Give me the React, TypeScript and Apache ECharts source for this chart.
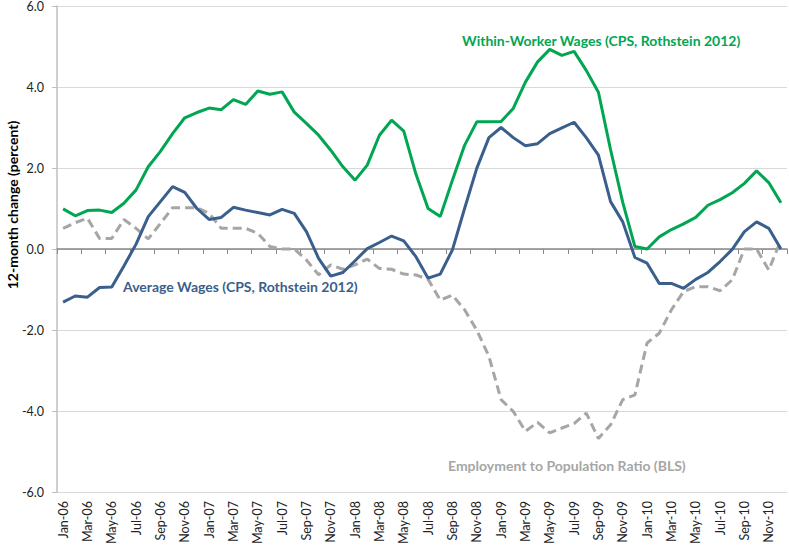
import React, { useEffect, useRef } from "react";
import * as echarts from "echarts";

const monthNames = ["Jan", "Feb", "Mar", "Apr", "May", "Jun", "Jul", "Aug", "Sep", "Oct", "Nov", "Dec"];
const years = ["06", "07", "08", "09", "10"];
const months: string[] = [];
years.forEach((y) => monthNames.forEach((m) => months.push(m + "-" + y)));

const withinWorker = [
  0.99, 0.82, 0.95, 0.96, 0.9, 1.13, 1.46, 2.03, 2.41, 2.85, 3.24, 3.37,
  3.48, 3.44, 3.69, 3.57, 3.9, 3.82, 3.88, 3.38, 3.1, 2.81, 2.44, 2.03,
  1.7, 2.07, 2.81, 3.18, 2.91, 1.85, 1.0, 0.8, 1.7, 2.56, 3.14, 3.14,
  3.15, 3.47, 4.12, 4.62, 4.93, 4.78, 4.88, 4.41, 3.87, 2.45, 1.15, 0.06,
  0.0, 0.3, 0.48, 0.62, 0.78, 1.08, 1.22, 1.39, 1.62, 1.93, 1.64, 1.14,
];
const averageWages = [
  -1.31, -1.16, -1.19, -0.95, -0.94, -0.42, 0.12, 0.8, 1.17, 1.54, 1.4, 1.0,
  0.73, 0.78, 1.03, 0.96, 0.9, 0.84, 0.98, 0.88, 0.43, -0.23, -0.67, -0.58,
  -0.29, 0.01, 0.16, 0.32, 0.2, -0.19, -0.72, -0.62, -0.02, 1.0, 1.99, 2.75,
  3.0, 2.75, 2.55, 2.6, 2.85, 2.99, 3.13, 2.75, 2.32, 1.17, 0.67, -0.21,
  -0.35, -0.85, -0.85, -0.97, -0.75, -0.58, -0.31, -0.01, 0.43, 0.67, 0.51, 0.0,
];
const employmentRatio = [
  0.51, 0.65, 0.76, 0.26, 0.26, 0.73, 0.51, 0.25, 0.63, 1.02, 1.02, 1.02,
  0.88, 0.51, 0.51, 0.51, 0.39, 0.06, 0.0, 0.0, -0.27, -0.64, -0.39, -0.5,
  -0.39, -0.25, -0.48, -0.5, -0.62, -0.64, -0.75, -1.26, -1.14, -1.5, -2.0, -2.65,
  -3.72, -4.01, -4.5, -4.28, -4.54, -4.42, -4.31, -4.05, -4.68, -4.34, -3.72, -3.6,
  -2.32, -2.08, -1.5, -1.05, -0.93, -0.93, -1.03, -0.76, 0.0, 0.0, -0.52, 0.22,
];

const GREEN = "#00A651";
const BLUE = "#3A5F8C";
const GRAY = "#A6A6A6";
const FONT = "Lato";

export default function App() {
  const ref = useRef<HTMLDivElement>(null);
  useEffect(() => {
    const chart = echarts.init(ref.current!, null, { renderer: "svg" });
    chart.setOption({
      animation: false,
      backgroundColor: "#ffffff",
      grid: { left: 57, right: 2, top: 6, bottom: 55, outerBoundsMode: "none" },
      xAxis: [
        {
          type: "category",
          data: months,
          position: "bottom",
          boundaryGap: true,
          axisLine: { show: false, onZero: false },
          axisTick: { show: false },
          splitLine: { show: false },
          axisLabel: {
            interval: 1,
            rotate: 90,
            margin: 9,
            fontSize: 12.5,
            fontFamily: FONT,
            color: "#222",
          },
        },
        {
          type: "category",
          data: months,
          position: "top",
          boundaryGap: true,
          axisLine: { show: true, onZero: true, lineStyle: { color: "#878787", width: 1.5 } },
          axisTick: { show: true, inside: true, interval: 1, length: 5, lineStyle: { color: "#878787" } },
          axisLabel: { show: false },
          splitLine: { show: false },
        },
      ],
      yAxis: {
        type: "value",
        min: -6,
        max: 6,
        interval: 2,
        axisLine: { show: true, lineStyle: { color: "#BFBFBF", width: 1.5 } },
        axisTick: { show: true, length: 5, lineStyle: { color: "#BFBFBF" } },
        splitLine: { show: true, lineStyle: { color: "#D9D9D9", width: 1 } },
        axisLabel: {
          formatter: (v: number) => v.toFixed(1),
          margin: 13,
          fontSize: 12.5,
          fontFamily: FONT,
          color: "#222",
        },
      },
      series: [
        {
          name: "Employment to Population Ratio (BLS)",
          type: "line",
          data: employmentRatio,
          symbol: "none",
          lineStyle: { color: GRAY, width: 3, type: [9, 5] },
          z: 2,
        },
        {
          name: "Average Wages (CPS, Rothstein 2012)",
          type: "line",
          data: averageWages,
          symbol: "none",
          lineStyle: { color: BLUE, width: 3 },
          z: 3,
        },
        {
          name: "Within-Worker Wages (CPS, Rothstein 2012)",
          type: "line",
          data: withinWorker,
          symbol: "none",
          lineStyle: { color: GREEN, width: 3 },
          z: 4,
        },
      ],
      graphic: [
        {
          type: "text",
          x: 12,
          y: 205,
          rotation: Math.PI / 2,
          style: {
            text: "12-month change (percent)",
            font: `bold 14px ${FONT}`,
            fill: "#000",
            textAlign: "center",
            textVerticalAlign: "middle",
            align: "center",
            verticalAlign: "middle",
          },
        },
        {
          type: "text",
          x: 462,
          y: 40,
          style: {
            text: "Within-Worker Wages (CPS, Rothstein 2012)",
            font: `bold 14px ${FONT}`,
            fill: GREEN,
            textVerticalAlign: "middle",
            verticalAlign: "middle",
          },
        },
        {
          type: "text",
          x: 123,
          y: 286,
          style: {
            text: "Average Wages (CPS, Rothstein 2012)",
            font: `bold 14px ${FONT}`,
            fill: BLUE,
            textVerticalAlign: "middle",
            verticalAlign: "middle",
          },
        },
        {
          type: "text",
          x: 448,
          y: 465,
          style: {
            text: "Employment to Population Ratio (BLS)",
            font: `bold 14px ${FONT}`,
            fill: GRAY,
            textVerticalAlign: "middle",
            verticalAlign: "middle",
          },
        },
      ],
    });
    return () => chart.dispose();
  }, []);
  return (
    <div
      ref={ref}
      style={{ position: "fixed", left: 0, top: 0, width: 789, height: 547, background: "#fff" }}
    />
  );
}
